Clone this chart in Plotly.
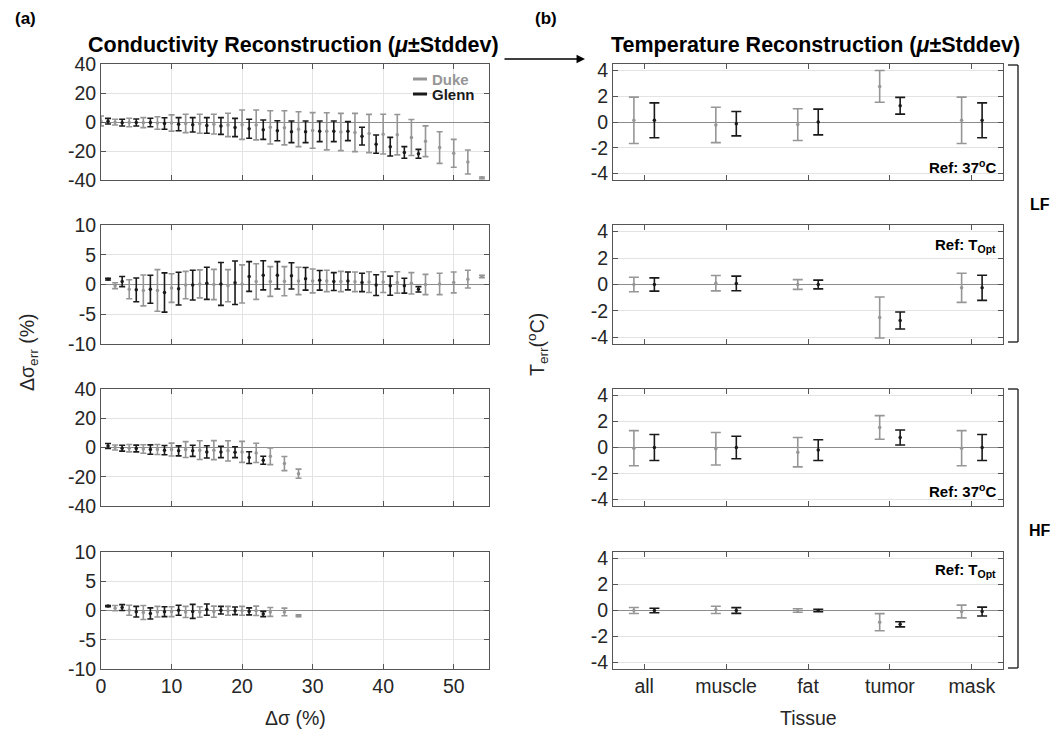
import plotly.graph_objects as go

# ---------------- data ----------------
# Conductivity panels (x = delta sigma %)
c1_duke_x = [0, 2, 4, 6, 8, 10, 12, 14, 16, 18, 20, 22, 24, 26, 28, 30, 32, 34, 36, 38, 40, 42, 44, 46, 48, 50, 52, 54]
c1_duke_mean = [0.7, -0.1, -0.35, -0.45, -0.7, -0.7, -1.0, -1.25, -1.5, -2.05, -1.85, -2.05, -3.7, -4.0, -4.95, -5.85, -6.45, -6.9, -7.25, -7.95, -8.4, -8.75, -10.7, -13.3, -17.6, -21.6, -27.6, -38.5]
c1_duke_sd = [3.4, 1.95, 2.9, 3.45, 4.35, 5.6, 6.3, 6.55, 6.8, 8.05, 10.1, 10.3, 11.5, 11.8, 12.0, 12.3, 12.8, 12.85, 13.2, 13.2, 13.7, 13.9, 12.4, 10.6, 10.9, 9.65, 8.3, 0.6]
c1_glenn_x = [1, 3, 5, 7, 9, 11, 13, 15, 17, 19, 21, 23, 25, 27, 29, 31, 33, 35, 37, 39, 41, 43, 45]
c1_glenn_mean = [0.55, -0.45, -0.35, -0.35, -1.05, -1.5, -1.95, -2.4, -2.75, -3.8, -4.7, -5.3, -6.0, -6.8, -6.8, -6.45, -6.45, -6.3, -9.75, -15.3, -17.0, -21.0, -21.95]
c1_glenn_sd = [1.95, 2.3, 2.4, 2.9, 4.0, 4.5, 4.95, 5.4, 5.75, 6.3, 6.55, 6.65, 6.9, 7.45, 7.45, 7.1, 7.1, 6.55, 6.1, 6.3, 6.4, 4.0, 3.1]

c2_duke_x = [2, 4, 6, 8, 10, 12, 14, 16, 18, 20, 22, 24, 26, 28, 30, 32, 34, 36, 38, 40, 42, 44, 46, 48, 50, 52, 54]
c2_duke_mean = [-0.2, -0.8, -1.0, -1.0, -0.6, -0.1, 0.1, 0.0, -0.2, 0.1, 0.5, 0.5, 0.55, 0.6, 0.6, 0.6, 0.5, 0.45, 0.4, 0.4, 0.35, 0.2, 0.0, 0.1, 0.35, 0.9, 1.35]
c2_duke_sd = [0.5, 1.6, 2.6, 3.5, 2.4, 2.3, 2.35, 2.55, 2.7, 3.2, 3.0, 2.5, 2.45, 2.3, 2.0, 1.8, 1.7, 1.65, 1.75, 1.75, 1.8, 1.8, 1.7, 1.8, 1.75, 1.5, 0.2]
c2_glenn_x = [1, 3, 5, 7, 9, 11, 13, 15, 17, 19, 21, 23, 25, 27, 29, 31, 33, 35, 37, 39, 41, 43, 45]
c2_glenn_mean = [0.9, 0.5, -0.9, -0.8, -1.35, -0.7, -0.1, 0.2, 0.1, 0.3, 1.35, 1.55, 1.55, 1.45, 0.95, 0.7, 0.5, 0.6, 0.35, -0.1, -0.2, -0.2, -0.8]
c2_glenn_sd = [0.15, 0.85, 2.0, 2.35, 3.3, 2.75, 2.5, 2.7, 3.6, 3.65, 2.5, 2.45, 2.3, 2.2, 1.9, 1.65, 1.5, 1.5, 1.55, 1.75, 1.6, 1.25, 0.45]

c3_duke_x = [2, 4, 6, 8, 10, 12, 14, 16, 18, 20, 22, 24, 26, 28]
c3_duke_mean = [0.0, -0.5, -1.0, -1.4, -1.4, -1.4, -1.8, -1.8, -2.3, -3.0, -3.7, -6.0, -11.0, -17.9]
c3_duke_sd = [1.7, 2.5, 2.9, 3.4, 4.4, 5.4, 6.4, 6.5, 6.9, 7.2, 6.6, 5.7, 4.8, 3.1]
c3_glenn_x = [1, 3, 5, 7, 9, 11, 13, 15, 17, 19, 21, 23]
c3_glenn_mean = [1.0, -0.5, -0.7, -1.4, -1.8, -2.3, -2.3, -3.0, -3.0, -3.2, -6.9, -8.7]
c3_glenn_sd = [1.7, 2.0, 2.3, 3.2, 3.2, 3.4, 3.8, 4.2, 3.9, 3.7, 4.0, 2.75]

c4_duke_x = [2, 4, 6, 8, 10, 12, 14, 16, 18, 20, 22, 24, 26, 28]
c4_duke_mean = [0.4, 0.05, -0.35, -0.2, -0.2, -0.25, -0.25, -0.2, -0.05, -0.05, -0.05, -0.25, -0.25, -0.9]
c4_duke_sd = [0.45, 0.85, 1.2, 0.9, 0.85, 0.95, 0.9, 0.95, 0.75, 0.75, 0.8, 0.75, 0.65, 0.15]
c4_glenn_x = [1, 3, 5, 7, 9, 11, 13, 15, 17, 19, 21, 23]
c4_glenn_mean = [0.75, 0.5, -0.2, -0.5, -0.2, 0.05, -0.15, 0.15, 0.05, -0.05, -0.15, -0.6]
c4_glenn_sd = [0.1, 0.5, 0.9, 0.95, 0.85, 0.85, 1.2, 0.95, 0.65, 0.65, 0.6, 0.45]

# Temperature panels
tissues = ["all", "muscle", "fat", "tumor", "mask"]
t1_duke_mean = [0.13, -0.23, -0.2, 2.76, 0.13]
t1_duke_sd = [1.8, 1.37, 1.23, 1.23, 1.8]
t1_glenn_mean = [0.13, -0.13, 0.0, 1.26, 0.13]
t1_glenn_sd = [1.35, 0.95, 1.0, 0.65, 1.35]
t2_duke_mean = [0.0, 0.1, 0.0, -2.5, -0.25]
t2_duke_sd = [0.55, 0.58, 0.37, 1.55, 1.1]
t2_glenn_mean = [0.0, 0.08, 0.0, -2.72, -0.25]
t2_glenn_sd = [0.5, 0.55, 0.33, 0.64, 0.95]
t3_duke_mean = [-0.05, -0.1, -0.36, 1.54, -0.05]
t3_duke_sd = [1.35, 1.25, 1.13, 0.91, 1.35]
t3_glenn_mean = [0.0, 0.0, -0.2, 0.77, 0.0]
t3_glenn_sd = [1.0, 0.87, 0.8, 0.58, 1.0]
t4_duke_mean = [0.0, 0.05, 0.0, -0.9, -0.08]
t4_duke_sd = [0.23, 0.28, 0.14, 0.66, 0.49]
t4_glenn_mean = [0.0, 0.0, 0.0, -1.06, -0.08]
t4_glenn_sd = [0.17, 0.22, 0.1, 0.2, 0.34]

series_names = ["Duke", "Glenn"]
cond_x_ticks = [0, 10, 20, 30, 40, 50]
cond_y_ticks_wide = [-40, -20, 0, 20, 40]
cond_y_ticks_narrow = [-10, -5, 0, 5, 10]
temp_y_ticks = [-4, -2, 0, 2, 4]

# ---------------- style ----------------
PAGE_OFF = 8            # default page margin around the plot div
W, H = 1061 - PAGE_OFF, 733 - PAGE_OFF
DUKE = "#969696"
GLENN = "#1a1a1a"
AXC = "#555555"
TXT = "#262626"
GRID = "#e3e3e3"
ZERO = "#8c8c8c"
FONT = "Liberation Sans, Arial, Helvetica, sans-serif"
TICKSIZE = 19.5

def px(x):
    return (x - PAGE_OFF) / W

def py(y):
    return 1 - (y - PAGE_OFF) / H

def labels(vals):
    return [str(v) for v in vals]   # plain hyphen minus, as in the original

left_dom = [px(101), px(489)]
right_dom = [px(613), px(1003)]
rows = [(64, 180), (225, 344), (389, 506), (552, 669)]
row_dom = [[py(b), py(t)] for t, b in rows]

fig = go.Figure()

def add_err(xs, ys, sd, color, ax, cap, name):
    fig.add_trace(go.Scatter(
        x=xs, y=ys, mode="markers", name=name,
        marker=dict(color=color, size=3.5),
        error_y=dict(type="data", array=sd, color=color, thickness=1.6, width=cap),
        xaxis=ax[0], yaxis=ax[1], showlegend=False))

cond = [
    (c1_duke_x, c1_duke_mean, c1_duke_sd, c1_glenn_x, c1_glenn_mean, c1_glenn_sd),
    (c2_duke_x, c2_duke_mean, c2_duke_sd, c2_glenn_x, c2_glenn_mean, c2_glenn_sd),
    (c3_duke_x, c3_duke_mean, c3_duke_sd, c3_glenn_x, c3_glenn_mean, c3_glenn_sd),
    (c4_duke_x, c4_duke_mean, c4_duke_sd, c4_glenn_x, c4_glenn_mean, c4_glenn_sd),
]
temp = [
    (t1_duke_mean, t1_duke_sd, t1_glenn_mean, t1_glenn_sd),
    (t2_duke_mean, t2_duke_sd, t2_glenn_mean, t2_glenn_sd),
    (t3_duke_mean, t3_duke_sd, t3_glenn_mean, t3_glenn_sd),
    (t4_duke_mean, t4_duke_sd, t4_glenn_mean, t4_glenn_sd),
]
cond_ranges = [[-40, 40], [-10, 10], [-40, 40], [-10, 10]]
cond_ticks = [cond_y_ticks_wide, cond_y_ticks_narrow, cond_y_ticks_wide, cond_y_ticks_narrow]

tissue_pos = [i + 1 for i in range(len(tissues))]
OFF = 0.125

common = dict(ticks="inside", ticklen=5, tickcolor=AXC, showline=True, linecolor=AXC,
              linewidth=1, mirror="ticks", automargin=False,
              tickfont=dict(size=TICKSIZE, color=TXT, family=FONT))

layout = {}
for i in range(4):
    n = i + 1
    xa, ya = ("x" if n == 1 else f"x{n}"), ("y" if n == 1 else f"y{n}")
    dx, dm, ds, gx, gm, gs = cond[i]
    add_err(dx, dm, ds, DUKE, (xa, ya), 3, series_names[0])
    add_err(gx, gm, gs, GLENN, (xa, ya), 3, series_names[1])
    layout["xaxis" if n == 1 else f"xaxis{n}"] = dict(
        domain=left_dom, anchor=ya, range=[0, 55], tickvals=cond_x_ticks,
        ticktext=labels(cond_x_ticks),
        showticklabels=(i == 3), showgrid=True, gridcolor=GRID, zeroline=False, **common)
    layout["yaxis" if n == 1 else f"yaxis{n}"] = dict(
        domain=row_dom[i], anchor=xa, range=cond_ranges[i], tickvals=cond_ticks[i],
        ticktext=labels(cond_ticks[i]),
        showgrid=True, gridcolor=GRID, zeroline=True, zerolinecolor=ZERO, zerolinewidth=1.2,
        **common)

for i in range(4):
    n = i + 5
    xa, ya = f"x{n}", f"y{n}"
    dm, ds, gm, gs = temp[i]
    add_err([p - OFF for p in tissue_pos], dm, ds, DUKE, (xa, ya), 5, series_names[0])
    add_err([p + OFF for p in tissue_pos], gm, gs, GLENN, (xa, ya), 5, series_names[1])
    layout[f"xaxis{n}"] = dict(
        domain=right_dom, anchor=ya, range=[0.62, 5.38], tickvals=tissue_pos, ticktext=tissues,
        showticklabels=(i == 3), showgrid=False, zeroline=False, **common)
    layout[f"yaxis{n}"] = dict(
        domain=row_dom[i], anchor=xa, range=[-4.5, 4.5], tickvals=temp_y_ticks,
        ticktext=labels(temp_y_ticks),
        showgrid=True, gridcolor=GRID, zeroline=True, zerolinecolor=ZERO, zerolinewidth=1.2,
        **common)

ann = []
def text(x, y, s, size, bold=False, angle=0, xanchor="center", yanchor="middle", color=TXT):
    ann.append(dict(x=px(x), y=py(y), xref="paper", yref="paper", text=(f"<b>{s}</b>" if bold else s),
                    showarrow=False, font=dict(size=size, color=color, family=FONT),
                    textangle=angle, xanchor=xanchor, yanchor=yanchor))

text(25, 19, "(a)", 17, bold=True, color="#000")
text(546, 19, "(b)", 17, bold=True, color="#000")
text(293, 45, "Conductivity Reconstruction (<i>μ</i>±Stddev)", 21.5, bold=True, color="#000")
text(815, 45, "Temperature Reconstruction (<i>μ</i>±Stddev)", 21.5, bold=True, color="#000")
text(28, 353, "Δσ<sub>err</sub> (%)", 19.5, angle=-90)
text(537, 345, "T<sub>err</sub>(<sup>o</sup>C)", 19.5, angle=-90)
text(295, 718, "Δσ (%)", 19.5)
text(808, 718, "Tissue", 19.5)
text(998, 166, "Ref: 37<sup>o</sup>C", 15, bold=True, xanchor="right", color="#000")
text(998, 490, "Ref: 37<sup>o</sup>C", 15, bold=True, xanchor="right", color="#000")
text(998, 245, "Ref: T<sub>Opt</sub>", 15, bold=True, xanchor="right", color="#000")
text(998, 570, "Ref: T<sub>Opt</sub>", 15, bold=True, xanchor="right", color="#000")
text(1040, 205, "LF", 16, bold=True, color="#000")
text(1040, 530, "HF", 16, bold=True, color="#000")
# legend (inside top-left panel)
text(430, 79, series_names[0], 15, bold=True, xanchor="left", color=DUKE)
text(430, 94, series_names[1], 15, bold=True, xanchor="left", color=GLENN)
# arrow between panels
ann.append(dict(x=px(585), y=py(59), ax=-82, ay=0, xref="paper", yref="paper",
                axref="pixel", ayref="pixel", text="", showarrow=True, arrowhead=2,
                arrowsize=1.3, arrowwidth=1.3, arrowcolor="#000"))

shapes = []
for yy, col in [(79, DUKE), (94, GLENN)]:
    shapes.append(dict(type="line", xref="paper", yref="paper", x0=px(413), x1=px(427),
                       y0=py(yy), y1=py(yy), line=dict(color=col, width=3)))
for top, bot in [(65, 342), (389, 668)]:
    shapes.append(dict(type="line", xref="paper", yref="paper", x0=px(1018), x1=px(1018),
                       y0=py(top), y1=py(bot), line=dict(color="#000", width=1.2)))
    for yy in (top, bot):
        shapes.append(dict(type="line", xref="paper", yref="paper", x0=px(1008), x1=px(1018),
                           y0=py(yy), y1=py(yy), line=dict(color="#000", width=1.2)))

fig.update_layout(
    width=W, height=H, margin=dict(l=0, r=0, t=0, b=0, pad=0, autoexpand=False),
    paper_bgcolor="white", plot_bgcolor="white",
    font=dict(family=FONT, color=TXT),
    showlegend=False,
    annotations=ann, shapes=shapes, **layout)

fig.write_html("out.html")
